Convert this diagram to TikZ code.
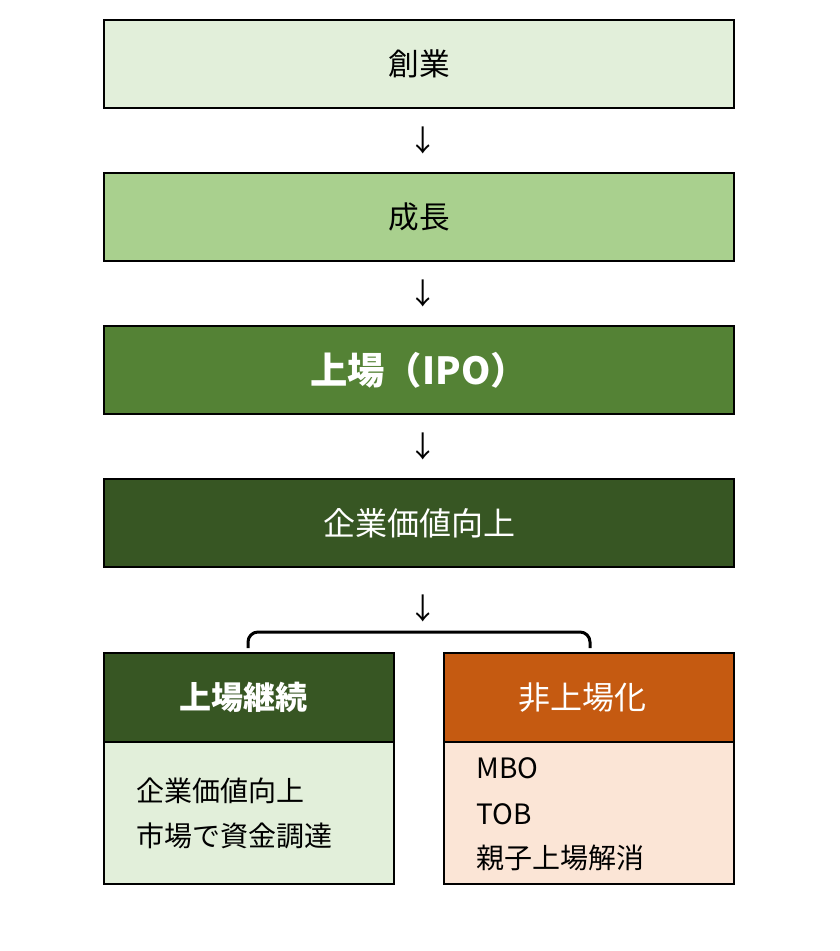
\documentclass[tikz,border=0pt]{standalone}
\usepackage{fontspec}
\setmainfont{Noto Sans CJK JP}
\usetikzlibrary{positioning}
\definecolor{paleg}{HTML}{E2EFDA}
\definecolor{lightg}{HTML}{A9D08E}
\definecolor{midg}{HTML}{548235}
\definecolor{darkg}{HTML}{375623}
\definecolor{rust}{HTML}{C55A11}
\definecolor{peach}{HTML}{FBE5D6}
\tikzset{
    stagebox/.style={draw=black,line width=2pt,outer sep=0pt,inner sep=0pt,minimum width=472.5pt,minimum height=66pt,font=\fontsize{23}{23}\selectfont},
    headbox/.style={draw=black,line width=2pt,outer sep=0pt,inner sep=0pt,minimum width=217.5pt,minimum height=66.75pt},
    headtext/.style={inner sep=0pt,text=white,font=\fontsize{24}{24}\selectfont},
    bodybox/.style={draw=black,line width=2pt,outer sep=0pt,inner sep=0pt,minimum width=217.5pt,minimum height=106.5pt},
    downarrow/.style={inner sep=0pt,font=\fontsize{22}{22}\selectfont},
    itemtext/.style={anchor=west,inner sep=0pt,font=\fontsize{21}{21}\selectfont}
}

\begin{document}
\begin{tikzpicture}[x=0.75pt,y=-0.75pt]
    \useasboundingbox (0,0) rectangle (840,951);

    % stages
    \node[stagebox,fill=paleg] (sogyo) at (419,64) {創業};
    \node[stagebox,fill=lightg] (seicho) at (419,217) {成長};
    \node[stagebox,fill=midg,text=white,font=\bfseries\fontsize{28}{28}\selectfont] (ipo) at (419,370) {上場（IPO）};
    \node[stagebox,fill=darkg,text=white,font=\fontsize{24}{24}\selectfont] (kachi) at (419,523) {企業価値向上};

    \node[downarrow] (arr1) at (423,140) {↓};
    \node[downarrow] (arr2) at (423,293) {↓};
    \node[downarrow] (arr3) at (423,446) {↓};
    \node[downarrow] (arr4) at (423,608) {↓};

    % bracket
    \coordinate (brL) at (248,648);
    \coordinate (brR) at (590,648);
    \draw[line width=2.25pt,rounded corners=7.5pt] (brL) -- ++(0,-16) -| (brR);

    % two outcomes
    \node[headbox,fill=darkg] (keizoku) at (249,697.5) {};
    \node[bodybox,fill=paleg,below=0pt of keizoku] (keizokuB) {};
    \node[headbox,fill=rust] (hijojo) at (589,697.5) {};
    \node[bodybox,fill=peach,below=0pt of hijojo] (hijojoB) {};

    \node[headtext,font=\bfseries\fontsize{24}{24}\selectfont] (keizokuT) at (243.5,697.5) {上場継続};
    \node[headtext] (hijojoT) at (582.5,697.5) {非上場化};

    \node[itemtext] (k1) at (136,791) {企業価値向上};
    \node[itemtext] (k2) at (136,836) {市場で資金調達};
    \node[itemtext] (h1) at (476,768) {MBO};
    \node[itemtext] (h2) at (476,814) {TOB};
    \node[itemtext] (h3) at (476,858) {親子上場解消};
\end{tikzpicture}
\end{document}
